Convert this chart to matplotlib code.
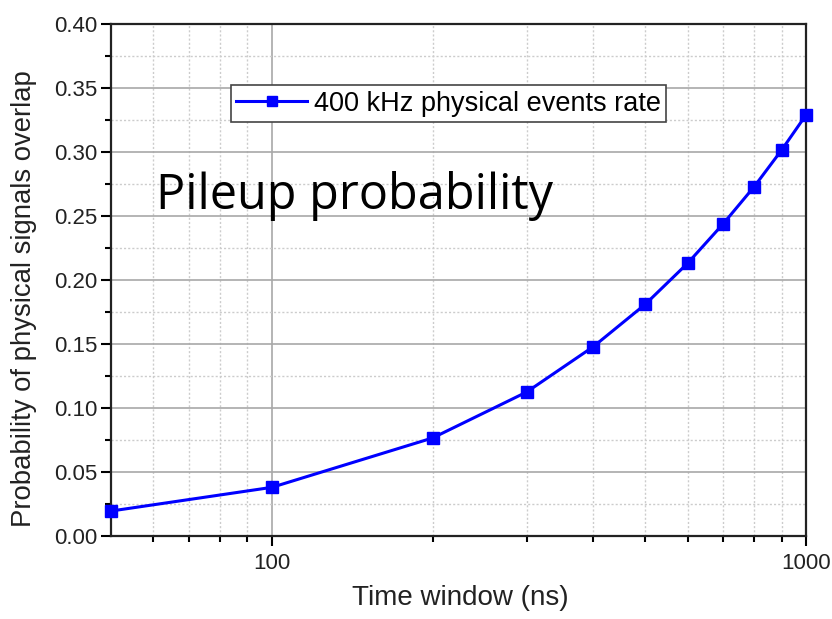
import matplotlib
matplotlib.use("Agg")
import matplotlib.pyplot as plt
from matplotlib.ticker import FixedLocator, NullFormatter, MultipleLocator, FormatStrFormatter

time_ns = [50, 100, 200, 300, 400, 500, 600, 700, 800, 900, 1000]
prob = [0.0195, 0.038, 0.0766, 0.1125, 0.148, 0.181, 0.213, 0.244, 0.273, 0.3015, 0.329]
series_label = "400 kHz physical events rate"
x_ticks = [100, 1000]
x_ticklabels = ["100", "1000"]
x_minor = [60, 70, 80, 90, 200, 300, 400, 500, 600, 700, 800, 900]

plt.rcParams['font.family'] = ['Liberation Sans', 'DejaVu Sans']

fig = plt.figure(figsize=(8.32, 6.19), dpi=100)
ax = fig.add_axes([0.1334, 0.1341, 0.8354, 0.8271])

ax.plot(time_ns, prob, color='#0000ff', lw=2.2, marker='s', ms=8.5,
        markeredgecolor='#0000ff', label=series_label, zorder=5, clip_on=False)

ax.set_xscale('log')
ax.set_xlim(50, 1000)
ax.set_ylim(0, 0.40)

ax.xaxis.set_major_locator(FixedLocator(x_ticks))
ax.set_xticks(x_ticks)
ax.set_xticklabels(x_ticklabels)
ax.xaxis.set_minor_locator(FixedLocator(x_minor))
ax.xaxis.set_minor_formatter(NullFormatter())

ax.yaxis.set_major_locator(MultipleLocator(0.05))
ax.yaxis.set_minor_locator(MultipleLocator(0.025))
ax.yaxis.set_major_formatter(FormatStrFormatter('%.2f'))

ax.grid(which='major', color='#a8a8a8', lw=1.2, ls='-')
ax.grid(which='minor', color='#cccccc', lw=1.0, ls=(0, (1.5, 1.5)))
ax.set_axisbelow(True)

ax.tick_params(which='major', direction='out', length=7, width=1.5, labelsize=16,
               top=False, right=False, color='black', labelcolor='#222222')
ax.tick_params(which='minor', direction='out', length=4.5, width=1.5, top=False, right=False)
ax.tick_params(axis='x', which='major', pad=5)
ax.tick_params(axis='y', which='major', pad=3)

for s in ax.spines.values():
    s.set_linewidth(1.6)
    s.set_color('#222222')

ax.set_xlabel('Time window (ns)', fontsize=20, color='#222222')
ax.xaxis.set_label_coords(0.502, -0.095)
ax.set_ylabel('Probability of physical signals overlap', fontsize=19.8, color='#222222')
ax.yaxis.set_label_coords(-0.106, 0.464)

leg = ax.legend(loc='lower left', bbox_to_anchor=(0.1727, 0.8086), borderaxespad=0,
                fontsize=19.5, fancybox=False, framealpha=1, edgecolor='#444444',
                handlelength=2.6, handletextpad=0.25, borderpad=0.2, markerscale=0.8)
leg.get_frame().set_linewidth(1.2)

fig.text(156/832, 1 - 209/619, 'Pileup probability', fontsize=35, family=['Open Sans', 'DejaVu Sans'],
         ha='left', va='baseline', color='black')

fig.savefig('out.png', dpi=100)
